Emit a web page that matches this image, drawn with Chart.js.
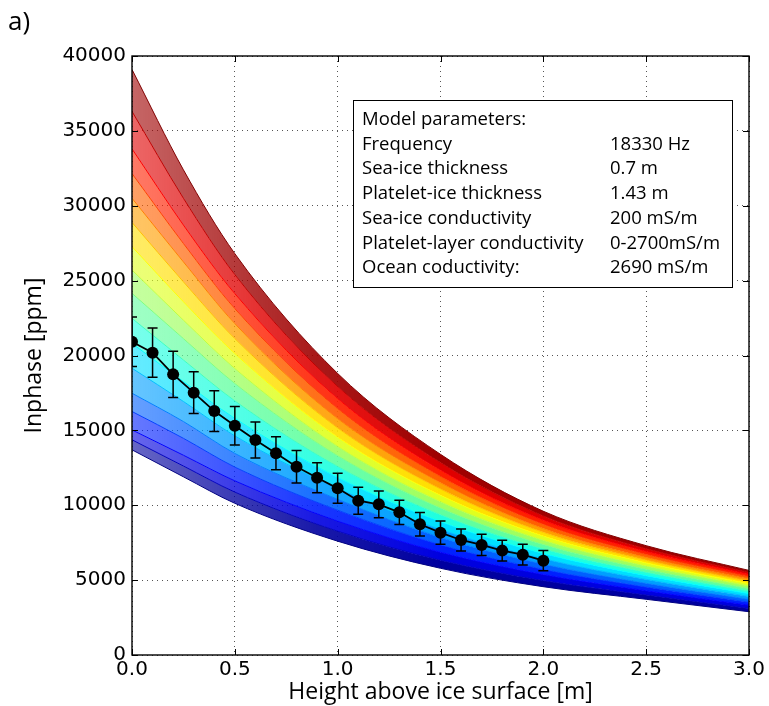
<!DOCTYPE html>
<html>
<head>
<meta charset="utf-8">
<title>Inphase vs height</title>
<script src="https://cdn.jsdelivr.net/npm/chart.js@4.4.1/dist/chart.umd.min.js"></script>
<style>
  html, body { margin: 0; padding: 0; background: #fff; }
  #wrap { width: 769px; height: 706px; }
</style>
</head>
<body>
<div id="wrap"><canvas id="InphaseChart" width="769" height="706"></canvas></div>
<script>
// model curves, sampled at these heights [m]
const modelHeights = [0, 0.25, 0.5, 1.0, 1.5, 2.0, 2.5, 3.0];

// one curve per platelet-layer conductivity step, 0 mS/m (blue) ... 2700 mS/m (dark red)
const curve0  = [13700, 11900, 10130,  7600,  5790, 4560, 3720, 2890];
const curve1  = [14370, 12620, 10880,  8270,  6330, 4970, 4010, 3110];
const curve2  = [15030, 13340, 11630,  8940,  6860, 5370, 4290, 3330];
const curve3  = [16260, 14470, 12550,  9670,  7360, 5720, 4540, 3530];
const curve4  = [17480, 15590, 13460, 10400,  7850, 6070, 4790, 3720];
const curve5  = [19150, 16930, 14630, 11130,  8380, 6430, 5050, 3910];
const curve6  = [20810, 18260, 15800, 11860,  8910, 6780, 5300, 4100];
const curve7  = [22480, 19700, 16970, 12590,  9370, 7080, 5520, 4270];
const curve8  = [24150, 21130, 18130, 13310,  9820, 7380, 5730, 4440];
const curve9  = [25710, 22360, 19130, 13930, 10240, 7660, 5940, 4610];
const curve10 = [27270, 23590, 20130, 14540, 10660, 7940, 6150, 4770];
const curve11 = [28890, 24920, 21130, 15160, 11080, 8190, 6330, 4920];
const curve12 = [30500, 26250, 22130, 15780, 11500, 8440, 6510, 5070];
const curve13 = [32150, 27480, 23130, 16450, 11920, 8720, 6710, 5220];
const curve14 = [33800, 28710, 24130, 17120, 12340, 9000, 6910, 5370];
const curve15 = [36300, 30500, 25400, 17930, 12850, 9290, 7100, 5510];
const curve16 = [39100, 32400, 26800, 18800, 13400, 9600, 7300, 5650];
const modelCurves = [curve0, curve1, curve2, curve3, curve4, curve5, curve6, curve7, curve8,
                     curve9, curve10, curve11, curve12, curve13, curve14, curve15, curve16];

// measured inphase (mean +- std)
const measHeights = [0, 0.1, 0.2, 0.3, 0.4, 0.5, 0.6, 0.7, 0.8, 0.9, 1.0,
                     1.1, 1.2, 1.3, 1.4, 1.5, 1.6, 1.7, 1.8, 1.9, 2.0];
const measInphase = [20920, 20190, 18740, 17520, 16290, 15310, 14360, 13470, 12570, 11840, 11130,
                     10300, 10060, 9530, 8730, 8170, 7680, 7350, 6970, 6700, 6300];
const measError   = [1650, 1650, 1550, 1400, 1360, 1280, 1200, 1100, 1090, 1000, 1000,
                     900, 890, 810, 780, 770, 730, 710, 700, 690, 670];

const xTickValues = [0, 0.5, 1.0, 1.5, 2.0, 2.5, 3.0];
const xTickLabels = ['0.0', '0.5', '1.0', '1.5', '2.0', '2.5', '3.0'];
const yTickValues = [0, 5000, 10000, 15000, 20000, 25000, 30000, 35000, 40000];
const yTickLabels = ['0', '5000', '10000', '15000', '20000', '25000', '30000', '35000', '40000'];

const paramNames  = ['Model parameters:', 'Frequency', 'Sea-ice thickness', 'Platelet-ice thickness',
                     'Sea-ice conductivity', 'Platelet-layer conductivity', 'Ocean coductivity:'];
const paramValues = ['', '18330 Hz', '0.7 m', '1.43 m', '200 mS/m', '0-2700mS/m', '2690 mS/m'];

// matplotlib "jet" colormap
function jet(t) {
  const c = v => Math.round(255 * Math.min(1, Math.max(0, v)));
  return [c(1.5 - Math.abs(4 * t - 3)), c(1.5 - Math.abs(4 * t - 2)), c(1.5 - Math.abs(4 * t - 1))];
}
const rgba = (c, a) => 'rgba(' + c[0] + ',' + c[1] + ',' + c[2] + ',' + a + ')';

// the thin lines leave white gaps on the left, so the band looks paler there
function bandFill(chart, c) {
  const area = chart.chartArea;
  if (!area) return rgba(c, 0.9);
  const g = chart.ctx.createLinearGradient(area.left, 0, area.right, 0);
  g.addColorStop(0, rgba(c, 0.6));
  g.addColorStop(0.12, rgba(c, 0.72));
  g.addColorStop(0.3, rgba(c, 0.9));
  g.addColorStop(0.5, rgba(c, 1));
  g.addColorStop(1, rgba(c, 1));
  return g;
}

const n = modelCurves.length - 1;
const fanSets = modelCurves.map((vals, i) => {
  const lineCol = jet(i / n);
  const bandCol = jet(Math.max(0, i - 0.5) / n);
  return {
    data: vals.map((v, j) => ({ x: modelHeights[j], y: v })),
    borderColor: rgba(lineCol, 1),
    borderWidth: 1,
    backgroundColor: ctx => bandFill(ctx.chart, bandCol),
    fill: i === 0 ? false : '-1',
    pointRadius: 0,
    cubicInterpolationMode: 'monotone',
    order: 1
  };
});

const measSet = {
  data: measHeights.map((h, i) => ({ x: h, y: measInphase[i] })),
  borderColor: '#000',
  borderWidth: 1.8,
  backgroundColor: '#000',
  pointRadius: 6,
  pointBorderWidth: 0,
  pointBackgroundColor: '#000',
  fill: false,
  order: 0
};

const errorBars = {
  id: 'errorBars',
  afterDatasetsDraw(chart) {
    const { ctx, chartArea: a, scales: { x, y } } = chart;
    ctx.save();
    ctx.beginPath();
    ctx.rect(a.left, a.top, a.right - a.left, a.bottom - a.top);
    ctx.clip();
    ctx.strokeStyle = '#000';
    ctx.lineWidth = 1.5;
    measHeights.forEach((h, i) => {
      const px = x.getPixelForValue(h);
      const top = y.getPixelForValue(measInphase[i] + measError[i]);
      const bot = y.getPixelForValue(measInphase[i] - measError[i]);
      ctx.beginPath();
      ctx.moveTo(px, top); ctx.lineTo(px, bot);
      ctx.moveTo(px - 5, top); ctx.lineTo(px + 5, top);
      ctx.moveTo(px - 5, bot); ctx.lineTo(px + 5, bot);
      ctx.stroke();
    });
    ctx.restore();
  }
};

// frame with inward ticks on all sides, panel letter and parameter box
const decorations = {
  id: 'decorations',
  afterDraw(chart) {
    const { ctx, chartArea: a, scales: { x, y } } = chart;
    ctx.save();
    ctx.strokeStyle = '#000';
    ctx.lineWidth = 1;
    ctx.beginPath();
    xTickValues.forEach(v => {
      const px = Math.round(x.getPixelForValue(v)) + 0.5;
      ctx.moveTo(px, a.bottom); ctx.lineTo(px, a.bottom - 6);
      ctx.moveTo(px, a.top); ctx.lineTo(px, a.top + 6);
    });
    yTickValues.forEach(v => {
      const py = Math.round(y.getPixelForValue(v)) + 0.5;
      ctx.moveTo(a.left, py); ctx.lineTo(a.left + 6, py);
      ctx.moveTo(a.right, py); ctx.lineTo(a.right - 6, py);
    });
    ctx.stroke();

    ctx.lineWidth = 1.4;
    ctx.strokeRect(a.left, a.top, a.right - a.left, a.bottom - a.top);

    ctx.fillStyle = '#000';
    ctx.font = '26px "Open Sans"';
    ctx.textBaseline = 'alphabetic';
    ctx.fillText('a)', 8, 30);

    // parameter box
    const bx = 353, by = 100, bw = 379, bh = 187;
    ctx.fillStyle = '#fff';
    ctx.fillRect(bx, by, bw, bh);
    ctx.lineWidth = 1;
    ctx.strokeRect(bx + 0.5, by + 0.5, bw, bh);
    ctx.fillStyle = '#000';
    ctx.font = '18.5px "Open Sans"';
    paramNames.forEach((t, i) => {
      const base = by + 25 + i * 24.7;
      ctx.fillText(t, bx + 9, base);
      ctx.fillText(paramValues[i], bx + 257, base);
    });
    ctx.restore();
  }
};

const ctx = document.getElementById('InphaseChart').getContext('2d');
const inphaseChart = new Chart(ctx, {
  type: 'line',
  data: { datasets: fanSets.concat([measSet]) },
  options: {
    responsive: false,
    animation: false,
    devicePixelRatio: 1,
    events: [],
    layout: { padding: { top: 56, right: 20, bottom: 0, left: 0 } },
    plugins: {
      legend: { display: false },
      tooltip: { enabled: false }
    },
    scales: {
      x: {
        type: 'linear',
        min: 0,
        max: 3,
        z: 1,
        afterFit(s) { s.height = 51; },
        afterBuildTicks(s) { s.ticks = xTickValues.map(v => ({ value: v })); },
        ticks: {
          callback: (v, i) => xTickLabels[i],
          font: { family: 'DejaVu Sans', size: 20 },
          color: '#000',
          padding: 3,
          maxRotation: 0,
          autoSkip: false
        },
        grid: { color: '#555', lineWidth: 1, drawTicks: false },
        border: { display: false, dash: [1, 4] },
        title: {
          display: true,
          text: 'Height above ice surface [m]',
          font: { family: 'Open Sans', size: 23 },
          color: '#000',
          padding: { top: 0, bottom: 0 }
        }
      },
      y: {
        type: 'linear',
        min: 0,
        max: 40000,
        z: 1,
        afterFit(s) { s.width = 132; },
        afterBuildTicks(s) { s.ticks = yTickValues.map(v => ({ value: v })); },
        ticks: {
          callback: (v, i) => yTickLabels[i],
          font: { family: 'DejaVu Sans', size: 20 },
          color: '#000',
          padding: 6,
          autoSkip: false
        },
        grid: { color: '#555', lineWidth: 1, drawTicks: false },
        border: { display: false, dash: [1, 4] },
        title: {
          display: true,
          text: 'Inphase [ppm]',
          font: { family: 'Open Sans', size: 23 },
          color: '#000',
          padding: { top: 21, bottom: 0 }
        }
      }
    }
  },
  plugins: [errorBars, decorations]
});
</script>
</body>
</html>
